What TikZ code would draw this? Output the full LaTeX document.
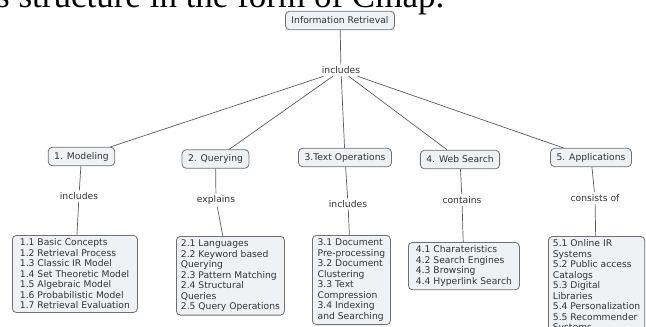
\documentclass[tikz,border=0pt]{standalone}
\usepackage{fontspec}
\setmainfont{DejaVu Sans}
\newfontfamily\pagefont{Liberation Serif}
\definecolor{boxfill}{HTML}{EEF2F5}
\definecolor{boxline}{HTML}{707070}
\definecolor{linkline}{HTML}{5C5C5C}
\definecolor{textcol}{HTML}{333333}

\begin{document}
\begin{tikzpicture}[
    x=1pt, y=-1pt,
    concept/.style={rectangle, rounded corners=4pt, draw=boxline, fill=boxfill, line width=0.8pt, text=textcol, font=\fontsize{9.2}{10.5}\selectfont, inner xsep=6pt, inner ysep=3pt, minimum height=18.5pt},
    leaf/.style={concept, anchor=north west, align=left, inner xsep=4.5pt, inner ysep=3.5pt},
    linkword/.style={text=textcol, font=\fontsize{9.2}{10.5}\selectfont, inner sep=2pt},
    link/.style={draw=linkline, line width=0.7pt}
]
    \useasboundingbox (0,0) rectangle (646,327);
    \clip (0,0) rectangle (646,327);

    % text of the page above the map
    \node[anchor=base west, inner sep=0, font=\pagefont\fontsize{35}{35}\selectfont] (pagetext) at (-4,7) {s structure in the form of Cmap.};

    % concepts
    \node[concept] (root) at (340,20.5) {Information Retrieval};
    \node[linkword] (inc) at (341,70.5) {includes};

    \node[concept] (modeling) at (81.5,156.5) {1. Modeling};
    \node[concept] (querying) at (215.5,159) {2. Querying};
    \node[concept] (textops) at (345,157.5) {3.Text Operations};
    \node[concept] (websearch) at (460,159.5) {4. Web Search};
    \node[concept] (apps) at (591,157.5) {5. Applications};

    % linking words
    \node[linkword] (incmod) at (79,196) {includes};
    \node[linkword] (explains) at (216,200) {explains};
    \node[linkword] (inctext) at (348,204) {includes};
    \node[linkword] (contains) at (462,200) {contains};
    \node[linkword] (consists) at (595,198) {consists of};

    % topic lists
    \node[leaf, minimum width=125pt] (modlist) at (12,235) {1.1 Basic Concepts\\1.2 Retrieval Process\\1.3 Classic IR Model\\1.4 Set Theoretic Model\\1.5 Algebraic Model\\1.6 Probabilistic Model\\1.7 Retrieval Evaluation};
    \node[leaf, minimum width=99pt] (querylist) at (176,236) {2.1 Languages\\2.2 Keyword based\\Querying\\2.3 Pattern Matching\\2.4 Structural\\Queries\\2.5 Query Operations};
    \node[leaf, minimum width=78pt] (textlist) at (312,235) {3.1 Document\\Pre-processing\\3.2 Document\\Clustering\\3.3 Text\\Compression\\3.4 Indexing\\and Searching};
    \node[leaf, minimum width=111pt] (weblist) at (408,242) {4.1 Charateristics\\4.2 Search Engines\\4.3 Browsing\\4.4 Hyperlink Search};
    \node[leaf, minimum width=96pt] (applist) at (548,236) {5.1 Online IR\\Systems\\5.2 Public access\\Catalogs\\5.3 Digital\\Libraries\\5.4 Personalization\\5.5 Recommender\\Systems};

    \draw[link] (root) -- (inc);
    \draw[link] (inc) -- (modeling);
    \draw[link] (inc) -- (querying);
    \draw[link] (inc) -- (textops);
    \draw[link] (inc) -- (websearch);
    \draw[link] (inc) -- (apps);

    \draw[link] (modeling) -- (incmod);
    \draw[link] (incmod) -- (modlist);
    \draw[link] (querying) -- (explains);
    \draw[link] (explains) -- (querylist);
    \draw[link] (textops) -- (inctext);
    \draw[link] (inctext) -- (textlist);
    \draw[link] (websearch) -- (contains);
    \draw[link] (contains) -- (weblist);
    \draw[link] (apps) -- (consists);
    \draw[link] (consists) -- (applist);
\end{tikzpicture}
\end{document}
